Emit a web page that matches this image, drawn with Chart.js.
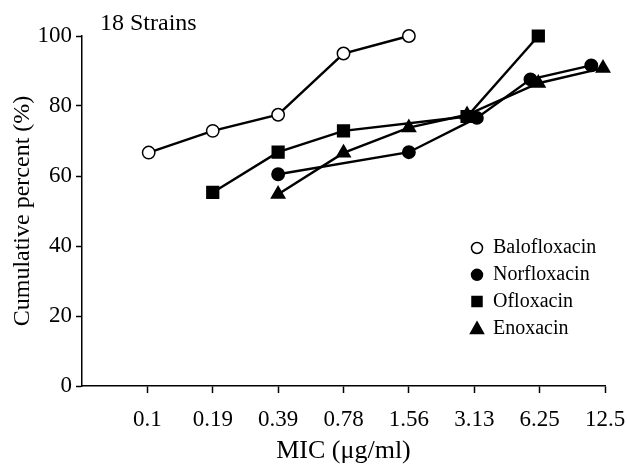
<!DOCTYPE html>
<html>
<head>
<meta charset="utf-8">
<script src="https://cdn.jsdelivr.net/npm/chart.js"></script>
<style>
  html, body { margin: 0; padding: 0; background: #fff; }
  #wrap { width: 627px; height: 468px; }
</style>
</head>
<body>
<div id="wrap"><canvas id="mic" width="627" height="468"></canvas></div>
<script>
// MIC categories on the x axis (each one sits at index 0..7)
const micLabels = ['0.1', '0.19', '0.39', '0.78', '1.56', '3.13', '6.25', '12.5']

// x = category index as placed in the picture, y = cumulative percent
const baloX = [0.02, 1, 2, 3, 4]
const baloY = [66.7, 72.9, 77.5, 95.0, 100]
const norX = [2, 4, 5.04, 5.86, 6.79]
const norY = [60.5, 66.8, 76.6, 87.6, 91.6]
const oflX = [1, 2, 3, 4.89, 5.98]
const oflY = [55.3, 66.8, 72.9, 77.0, 100]
const enoX = [2, 3, 4, 4.89, 5.98, 6.97]
const enoY = [54.8, 66.6, 73.8, 77.5, 86.5, 90.8]

const strainsNote = '18 Strains'
const serif = 'Liberation Serif'

function points(xs, ys) {
  return xs.map((x, i) => ({ x: x, y: ys[i] }))
}

function makeSet(label, xs, ys, style, fill, radius) {
  return {
    label: label,
    data: points(xs, ys),
    borderColor: '#000',
    borderWidth: 2.4,
    pointStyle: style,
    pointRadius: radius,
    pointHoverRadius: radius,
    pointBackgroundColor: fill,
    pointBorderColor: '#000',
    pointBorderWidth: 1.5,
    tension: 0,
    fill: false,
    clip: false
  }
}

// own legend + note, drawn inside the plot like the original figure
const figureText = {
  id: 'figureText',
  afterDraw(chart) {
    const ctx = chart.ctx
    ctx.save()
    ctx.fillStyle = '#000'
    ctx.font = '24px "' + serif + '"'
    ctx.textBaseline = 'alphabetic'
    ctx.textAlign = 'left'
    ctx.fillText(strainsNote, 100, 30)

    ctx.font = '20px "' + serif + '"'
    ctx.textBaseline = 'middle'
    chart.data.datasets.forEach((ds, i) => {
      const y = 248 + i * 26.8
      const x = 477
      ctx.beginPath()
      ctx.lineWidth = 1.5
      ctx.strokeStyle = '#000'
      ctx.fillStyle = ds.pointBackgroundColor
      if (ds.pointStyle === 'circle') {
        ctx.arc(x, y, 5.5, 0, Math.PI * 2)
      } else if (ds.pointStyle === 'rect') {
        ctx.rect(x - 5, y - 5, 10, 10)
      } else {
        ctx.moveTo(x, y - 6.5)
        ctx.lineTo(x + 6.5, y + 5)
        ctx.lineTo(x - 6.5, y + 5)
        ctx.closePath()
      }
      ctx.fill()
      ctx.stroke()
      ctx.fillStyle = '#000'
      ctx.fillText(ds.label, 493, y)
    })
    ctx.restore()
  }
}

const dataMic = {
  datasets: [
    makeSet('Balofloxacin', baloX, baloY, 'circle', '#fff', 6.2),
    makeSet('Norfloxacin', norX, norY, 'circle', '#000', 6.2),
    makeSet('Ofloxacin', oflX, oflY, 'rect', '#000', 8.3),
    makeSet('Enoxacin', enoX, enoY, 'triangle', '#000', 7.7)
  ]
}

const configMic = {
  type: 'line',
  data: dataMic,
  options: {
    responsive: false,
    animation: false,
    devicePixelRatio: 1,
    layout: { padding: { left: 0, right: 22, top: 36, bottom: 0 } },
    plugins: {
      legend: { display: false },
      tooltip: { enabled: false }
    },
    scales: {
      x: {
        type: 'linear',
        min: -1,
        max: 7,
        afterBuildTicks: (axis) => { axis.ticks = micLabels.map((l, i) => ({ value: i })) },
        afterFit: (scale) => {
          scale.height = 82
          scale.paddingLeft = 0
          scale.paddingRight = 0
        },
        ticks: {
          color: '#000',
          padding: 13,
          maxRotation: 0,
          autoSkip: false,
          font: { family: serif, size: 23 },
          callback: (v) => micLabels[v]
        },
        grid: {
          display: true,
          drawOnChartArea: false,
          drawTicks: true,
          tickLength: 7,
          tickColor: '#000',
          tickWidth: 1.5
        },
        border: { display: true, color: '#000', width: 1.5 },
        title: {
          display: true,
          text: 'MIC (μg/ml)',
          color: '#000',
          font: { family: serif, size: 26 },
          padding: { top: 0, bottom: 1 }
        }
      },
      y: {
        min: 0,
        max: 100,
        afterFit: (scale) => { scale.width = 82 },
        ticks: {
          stepSize: 20,
          color: '#000',
          padding: 4,
          font: { family: serif, size: 23 }
        },
        grid: {
          display: true,
          drawOnChartArea: false,
          drawTicks: true,
          tickLength: 6,
          tickColor: '#000',
          tickWidth: 1.5
        },
        border: { display: true, color: '#000', width: 1.5 },
        title: {
          display: true,
          text: 'Cumulative percent (%)',
          color: '#000',
          font: { family: serif, size: 24 },
          padding: { top: 8, bottom: 0 }
        }
      }
    }
  },
  plugins: [figureText]
}

const micChart = new Chart(document.getElementById('mic'), configMic)
</script>
</body>
</html>
